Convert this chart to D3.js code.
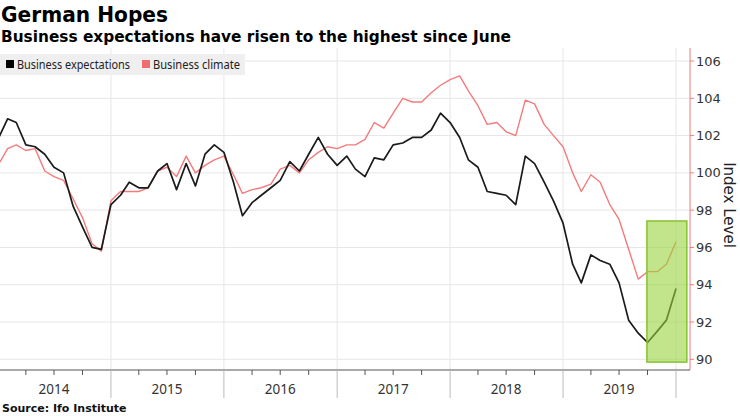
<!DOCTYPE html>
<html>
<head>
<meta charset="utf-8">
<script src="https://cdn.jsdelivr.net/npm/d3@7"></script>
<style>
  body { margin: 0; background: #fff; }
  text { font-family: "DejaVu Sans", sans-serif; }
  .lbl { font-family: "Noto Sans", "DejaVu Sans", sans-serif; }
</style>
</head>
<body>
<div id="canvas"></div>
<script>
// monthly values, Dec 2013 .. Dec 2019
var firstMonth = new Date(2013, 11, 1);
var expectations = [101.8, 102.9, 102.7, 101.5, 101.4, 101.0, 100.3, 100.0, 98.2, 97.1, 96.0, 95.9,
    98.3, 98.8, 99.5, 99.2, 99.2, 100.1, 100.5, 99.1, 100.5, 99.3, 101.0, 101.5,
    101.1, 99.5, 97.7, 98.4, 98.8, 99.2, 99.6, 100.6, 100.1, 101.0, 101.9, 101.0,
    100.4, 100.9, 100.2, 99.8, 100.8, 100.7, 101.5, 101.6, 101.9, 101.9, 102.3, 103.2,
    102.7, 101.9, 100.7, 100.3, 99.0, 98.9, 98.8, 98.3, 100.9, 100.5, 99.5, 98.5,
    97.3, 95.1, 94.1, 95.6, 95.3, 95.1, 94.1, 92.1, 91.4, 90.9, 91.5, 92.1, 93.8];
var climate = [100.4, 101.3, 101.5, 101.2, 101.3, 100.1, 99.8, 99.6, 98.6, 97.6, 96.2, 95.8,
    98.5, 99.0, 99.0, 99.0, 99.2, 100.1, 100.3, 99.8, 100.9, 100.0, 100.4, 100.7,
    100.9, 99.9, 98.9, 99.1, 99.2, 99.4, 100.2, 100.4, 100.0, 100.7, 101.1, 101.4,
    101.3, 101.5, 101.5, 101.8, 102.7, 102.4, 103.2, 104.0, 103.8, 103.8, 104.3, 104.7,
    105.0, 105.2, 104.4, 103.6, 102.6, 102.7, 102.2, 102.0, 103.9, 103.7, 102.6, 102.0,
    101.4, 100.0, 99.0, 99.9, 99.5, 98.3, 97.5, 95.9, 94.3, 94.7, 94.7, 95.1, 96.3];
var yTicks = [90, 92, 94, 96, 98, 100, 102, 104, 106];
var years = [2014, 2015, 2016, 2017, 2018, 2019];
var seriesNames = ["Business expectations", "Business climate"];
var seriesColors = ["#1a1a1a", "#f47b7b"];
// highlighted stretch: Sep..Dec 2019
var highlightDates = [new Date(2019, 8, 29), new Date(2020, 1, 5)];
var highlightValues = [89.85, 97.42];

function init() {
    var W = 740, H = 416;
    var plotTop = 48, plotBottom = 370, plotRight = 690;
    var svg = d3.select("#canvas").append("svg")
        .attr("width", W)
        .attr("height", H);

    var x = d3.scaleTime()
        .domain([new Date(2014, 0, 1), new Date(2020, 0, 1)])
        .range([-2, 676]);
    var y = d3.scaleLinear()
        .domain([90, 106])
        .range([359.3, 61]);

    // points sit at month end
    function monthX(i) {
        return x(d3.timeMonth.offset(firstMonth, i + 1));
    }

    // title
    svg.append("text")
        .attr("x", 1).attr("y", 22)
        .attr("font-size", 21).attr("font-weight", "bold")
        .attr("textLength", 167).attr("lengthAdjust", "spacingAndGlyphs")
        .text("German Hopes");
    svg.append("text")
        .attr("x", 1).attr("y", 42)
        .attr("font-size", 15).attr("font-weight", "bold")
        .attr("textLength", 510).attr("lengthAdjust", "spacingAndGlyphs")
        .text("Business expectations have risen to the highest since June");

    // grid
    svg.append("g").selectAll("line")
        .data(yTicks).join("line")
        .attr("x1", 0).attr("x2", plotRight)
        .attr("y1", function(d) { return y(d); })
        .attr("y2", function(d) { return y(d); })
        .attr("stroke", "#e6e6e6").attr("stroke-width", 1);
    var yearBounds = years.slice(1).map(function(d) { return new Date(d, 0, 1); });
    yearBounds.push(new Date(2020, 0, 1));
    svg.append("g").selectAll("line")
        .data(yearBounds).join("line")
        .attr("x1", function(d) { return x(d); })
        .attr("x2", function(d) { return x(d); })
        .attr("y1", plotTop).attr("y2", plotBottom)
        .attr("stroke", "#e6e6e6").attr("stroke-width", 1);

    // legend
    svg.append("rect")
        .attr("x", 0).attr("y", 54)
        .attr("width", 245).attr("height", 21)
        .attr("fill", "#efefef");
    var legendX = [6, 142];
    var legendW = [113, 87];
    seriesNames.forEach(function(name, i) {
        svg.append("rect")
            .attr("x", legendX[i]).attr("y", 60)
            .attr("width", 8).attr("height", 8)
            .attr("fill", i === 0 ? "#000" : "#f26d6d");
        svg.append("text")
            .attr("class", "lbl")
            .attr("x", legendX[i] + 11).attr("y", 68.5)
            .attr("font-size", 12).attr("fill", "#222")
            .attr("textLength", legendW[i]).attr("lengthAdjust", "spacingAndGlyphs")
            .text(name);
    });

    // lines
    svg.append("clipPath").attr("id", "plotclip")
        .append("rect")
        .attr("x", 0).attr("y", plotTop)
        .attr("width", plotRight).attr("height", plotBottom - plotTop);
    var line = d3.line()
        .x(function(d, i) { return monthX(i); })
        .y(function(d) { return y(d); });
    var lines = svg.append("g").attr("clip-path", "url(#plotclip)");
    lines.append("path")
        .datum(climate)
        .attr("d", line)
        .attr("fill", "none")
        .attr("stroke", seriesColors[1])
        .attr("stroke-width", 1.4)
        .attr("stroke-linejoin", "round");
    lines.append("path")
        .datum(expectations)
        .attr("d", line)
        .attr("fill", "none")
        .attr("stroke", seriesColors[0])
        .attr("stroke-width", 1.7)
        .attr("stroke-linejoin", "round");

    // highlight box
    svg.append("rect")
        .attr("x", x(highlightDates[0]))
        .attr("y", y(highlightValues[1]))
        .attr("width", x(highlightDates[1]) - x(highlightDates[0]))
        .attr("height", y(highlightValues[0]) - y(highlightValues[1]))
        .attr("fill", "#9ad33f")
        .attr("fill-opacity", 0.6)
        .attr("stroke", "#86c232")
        .attr("stroke-width", 1.5);

    // right axis
    svg.append("line")
        .attr("x1", plotRight).attr("x2", plotRight)
        .attr("y1", plotTop).attr("y2", plotBottom)
        .attr("stroke", "#f47b7b").attr("stroke-width", 1);
    var yAxis = svg.append("g");
    yAxis.selectAll("line")
        .data(yTicks).join("line")
        .attr("x1", plotRight).attr("x2", plotRight + 4)
        .attr("y1", function(d) { return y(d); })
        .attr("y2", function(d) { return y(d); })
        .attr("stroke", "#f47b7b");
    yAxis.selectAll("text")
        .data(yTicks).join("text")
        .attr("x", plotRight + 6)
        .attr("y", function(d) { return y(d); })
        .attr("dy", "0.35em")
        .attr("font-size", 13).attr("fill", "#333")
        .text(function(d) { return d; });
    svg.append("text")
        .attr("transform", "translate(724,205) rotate(90)")
        .attr("text-anchor", "middle")
        .attr("font-size", 15).attr("fill", "#222")
        .text("Index Level");

    // bottom axis
    svg.append("line")
        .attr("x1", 0).attr("x2", plotRight)
        .attr("y1", plotBottom).attr("y2", plotBottom)
        .attr("stroke", "#555");
    var quarters = d3.timeMonth.every(3).range(new Date(2014, 0, 1), new Date(2020, 0, 2));
    svg.append("g").selectAll("line")
        .data(quarters).join("line")
        .attr("x1", function(d) { return x(d); })
        .attr("x2", function(d) { return x(d); })
        .attr("y1", plotBottom)
        .attr("y2", function(d) { return d.getMonth() === 0 ? plotBottom + 28 : plotBottom + 5; })
        .attr("stroke", function(d) { return d.getMonth() === 0 ? "#bbb" : "#555"; });
    svg.append("g").selectAll("text")
        .data(years).join("text")
        .attr("class", "lbl")
        .attr("x", function(d) { return x(new Date(d, 6, 1)); })
        .attr("y", 394)
        .attr("text-anchor", "middle")
        .attr("font-size", 13.5).attr("fill", "#333")
        .text(function(d) { return d; });

    svg.append("text")
        .attr("x", 2).attr("y", 412)
        .attr("font-size", 11).attr("font-weight", "bold")
        .attr("fill", "#111")
        .text("Source: Ifo Institute");
}
window.onload = init();
</script>
</body>
</html>
